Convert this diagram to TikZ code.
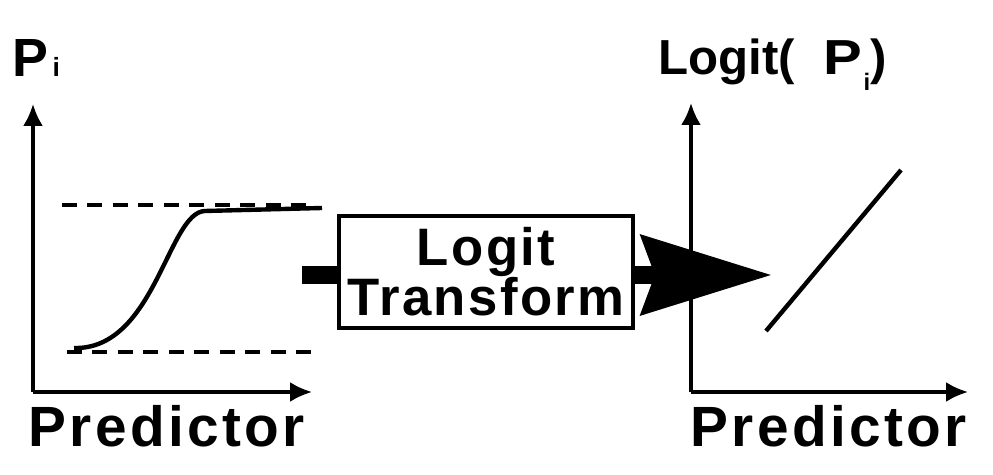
\documentclass[tikz,border=0pt]{standalone}
\usepackage{fontspec}
\setmainfont{Liberation Sans}
\newfontfamily\axisfont[LetterSpace=6]{Liberation Sans}
\newfontfamily\boxfont[LetterSpace=4.5]{Liberation Sans}
\usetikzlibrary{arrows.meta, positioning}
\tikzstyle{axis} = [-{Latex[length=4.4mm, width=4mm]}, line width=1.9pt]
\tikzstyle{guide} = [line width=2.2pt, dash pattern=on 8.5pt off 6pt]
\tikzstyle{curve} = [line width=2.5pt]
\tikzstyle{logit box} = [draw, line width=2.3pt, minimum width=5.88cm, minimum height=2.24cm, align=center, inner sep=0pt, font=\boxfont\bfseries\fontsize{30}{28.3}\selectfont]
\tikzstyle{bar} = [line width=10.2pt]
\tikzstyle{fat arrow} = [bar, -{Stealth[length=2.6cm, width=1.56cm, inset=0.26cm]}]
\tikzstyle{caption} = [anchor=base west, inner sep=0pt]
\tikzstyle{axis title} = [caption, font=\axisfont\bfseries\fontsize{32.3}{32.3}\selectfont]

\begin{document}
\begin{tikzpicture}[x=0.02cm, y=-0.02cm]
    \useasboundingbox (0,0) rectangle (993,475);

    % Axes origins and ends.
    \node (origin 1) [coordinate] at (33,392) {};
    \node (origin 2) [coordinate] at (691,392) {};
    \node (top 1) [coordinate] at (33,104) {};
    \node (top 2) [coordinate] at (691,103) {};
    \node (end 1) [coordinate] at (312,392) {};
    \node (end 2) [coordinate] at (968,392) {};

    \foreach \j in {1, 2} {%
        \draw [axis] (origin \j) -- (top \j);
        \draw [axis] (origin \j) -- (end \j);
    }

    % Axis labels.
    \node (predictor 1) [axis title] at (28,447) {Predictor};
    \node (predictor 2) [axis title] at (690,447) {Predictor};
    \node (p label) [caption, font=\bfseries\fontsize{30.6}{30.6}\selectfont] at (12,77)
        {P\hspace{2.5pt}{\fontsize{15}{15}\selectfont i}};
    \node (logit label) [caption, font=\bfseries\fontsize{28}{28}\selectfont] at (658,75)
        {Logit(\hspace{16pt}\scalebox{1.18}[1]{P}\hspace{1pt}\raisebox{-9pt}{\fontsize{13.6}{13.6}\selectfont i})};

    % Sigmoid with its two limits.
    \draw [guide] (62,205) -- (310,205);
    \draw [guide] (67,352) -- (313,352);
    \draw [curve] (74,348) .. controls (155,350) and (168,212) .. (205,211) -- (322,208);

    % Transform box and flow.
    \node (transform) [logit box] at (486,272) {Logit\\Transform};
    \node (feed) [coordinate, left=0.7cm of transform.west, yshift=-0.06cm] {};
    \node (head) [coordinate, right=2.74cm of transform.east, yshift=-0.06cm] {};
    \draw [bar] (feed) -- (feed -| transform.west);
    \draw [fat arrow] (head -| transform.east) -- (head);

    % Straight line after the transform.
    \node (line low) [coordinate] at (766,331) {};
    \node (line high) [coordinate] at (901,170) {};
    \draw [curve] (line low) -- (line high);
\end{tikzpicture}
\end{document}
